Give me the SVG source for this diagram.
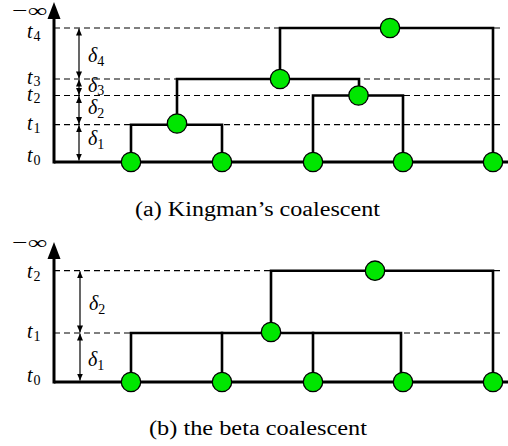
<svg xmlns="http://www.w3.org/2000/svg" width="508" height="446" viewBox="0 0 508 446">
<defs>
<style>
.dash{stroke:#000;stroke-width:1.2;stroke-dasharray:6,4;fill:none}
.axis{stroke:#000;stroke-width:3;fill:none}
.edge{stroke:#000;stroke-width:2.6;fill:none;stroke-linejoin:miter;stroke-linecap:square}
.dl{stroke:#000;stroke-width:1.2;fill:none;marker-start:url(#ah);marker-end:url(#ah)}
.node{fill:#00e600;stroke:#000;stroke-width:1.3}
.m{font-family:"Liberation Serif","DejaVu Serif",serif;font-style:italic;font-size:20px;fill:#000}
.sub{font-style:normal;font-size:14px}
.cap{font-family:"Liberation Serif","Times New Roman",serif;font-size:20px;fill:#000}
.inf{font-family:"Liberation Serif","DejaVu Serif",serif;font-size:19px;fill:#000}
</style>
<marker id="ah" viewBox="0 0 7 6" refX="7" refY="3" markerWidth="7" markerHeight="6" markerUnits="userSpaceOnUse" orient="auto-start-reverse"><path d="M0,0 L7,3 L0,6 z" fill="#000"/></marker>
</defs>
<rect width="508" height="446" fill="#fff"/>

<!-- Panel (a) -->
<g id="grid-a">
<line class="dash" x1="54" y1="28" x2="500" y2="28"/>
<line class="dash" x1="54" y1="79" x2="500" y2="79"/>
<line class="dash" x1="54" y1="95.5" x2="500" y2="95.5"/>
<line class="dash" x1="54" y1="124.7" x2="500" y2="124.7"/>
</g>
<g id="axis-a">
<line class="axis" x1="54" y1="162" x2="508" y2="162"/>
<line class="axis" x1="54" y1="163.5" x2="54" y2="16"/>
<polygon points="54,2 47.5,19 60.5,19" fill="#000"/>
<text class="inf" x="12" y="17" textLength="35" lengthAdjust="spacingAndGlyphs">−∞</text>
<text class="m" x="27" y="38">t<tspan class="sub" dx="1" dy="3">4</tspan></text>
<text class="m" x="27" y="84">t<tspan class="sub" dx="1" dy="2">3</tspan></text>
<text class="m" x="27" y="101">t<tspan class="sub" dx="1" dy="2">2</tspan></text>
<text class="m" x="27" y="130">t<tspan class="sub" dx="1" dy="3">1</tspan></text>
<text class="m" x="27" y="162">t<tspan class="sub" dx="1" dy="3">0</tspan></text>
</g>
<g id="deltas-a">
<line class="dl" x1="79" y1="28.6" x2="79" y2="78.4"/>
<line class="dl" x1="79" y1="79.6" x2="79" y2="94.9"/>
<line class="dl" x1="79" y1="96.1" x2="79" y2="124.1"/>
<line class="dl" x1="79" y1="125.3" x2="79" y2="160.5"/>
<text class="m" x="88" y="62">δ<tspan class="sub" dx="0" dy="4">4</tspan></text>
<text class="m" x="88" y="92">δ<tspan class="sub" dx="0" dy="3">3</tspan></text>
<text class="m" x="88" y="114">δ<tspan class="sub" dx="0" dy="4">2</tspan></text>
<text class="m" x="88" y="145">δ<tspan class="sub" dx="0" dy="4">1</tspan></text>
</g>
<g id="connectors-a">
<path class="edge" d="M131,162 V124.7 H222 V162"/>
<path class="edge" d="M177,124.7 V79 H359 V95.5"/>
<path class="edge" d="M313,162 V95.5 H403 V162"/>
<path class="edge" d="M280,79 V28 H493 V162"/>
</g>
<g id="a-leaf1"><circle class="node" cx="131" cy="162" r="9.7"/></g>
<g id="a-leaf2"><circle class="node" cx="222" cy="162" r="9.7"/></g>
<g id="a-leaf3"><circle class="node" cx="313" cy="162" r="9.7"/></g>
<g id="a-leaf4"><circle class="node" cx="403" cy="162" r="9.7"/></g>
<g id="a-leaf5"><circle class="node" cx="493" cy="162" r="9.7"/></g>
<g id="a-n1"><circle class="node" cx="177" cy="123.5" r="9.7"/></g>
<g id="a-n2"><circle class="node" cx="358.5" cy="95.5" r="9.7"/></g>
<g id="a-n3"><circle class="node" cx="280" cy="79" r="9.7"/></g>
<g id="a-n4"><circle class="node" cx="390" cy="28" r="9.7"/></g>
<text class="cap" x="135" y="216" textLength="245" lengthAdjust="spacingAndGlyphs">(a)  Kingman’s coalescent</text>

<!-- Panel (b) -->
<g id="grid-b">
<line class="dash" x1="54" y1="270.7" x2="500" y2="270.7"/>
<line class="dash" x1="54" y1="333" x2="500" y2="333"/>
</g>
<g id="axis-b">
<line class="axis" x1="54" y1="382" x2="508" y2="382"/>
<line class="axis" x1="54" y1="383.5" x2="54" y2="256"/>
<polygon points="54,242 47.5,259 60.5,259" fill="#000"/>
<text class="inf" x="12" y="249" textLength="35" lengthAdjust="spacingAndGlyphs">−∞</text>
<text class="m" x="27" y="278">t<tspan class="sub" dx="1" dy="3">2</tspan></text>
<text class="m" x="27" y="338">t<tspan class="sub" dx="1" dy="3">1</tspan></text>
<text class="m" x="27" y="382">t<tspan class="sub" dx="1" dy="3">0</tspan></text>
</g>
<g id="deltas-b">
<line class="dl" x1="80" y1="271.3" x2="80" y2="332.4"/>
<line class="dl" x1="80" y1="333.6" x2="80" y2="380.5"/>
<text class="m" x="89" y="310">δ<tspan class="sub" dx="0" dy="4">2</tspan></text>
<text class="m" x="88" y="366">δ<tspan class="sub" dx="0" dy="4">1</tspan></text>
</g>
<g id="connectors-b">
<path class="edge" d="M131,382 V333 H401 V382"/>
<path class="edge" d="M222,333 V382"/>
<path class="edge" d="M313,333 V382"/>
<path class="edge" d="M271,333 V270.7 H493 V382"/>
</g>
<g id="b-leaf1"><circle class="node" cx="131" cy="382" r="9.7"/></g>
<g id="b-leaf2"><circle class="node" cx="222" cy="382" r="9.7"/></g>
<g id="b-leaf3"><circle class="node" cx="313" cy="382" r="9.7"/></g>
<g id="b-leaf4"><circle class="node" cx="403" cy="382" r="9.7"/></g>
<g id="b-leaf5"><circle class="node" cx="493" cy="382" r="9.7"/></g>
<g id="b-n1"><circle class="node" cx="271" cy="332" r="9.7"/></g>
<g id="b-n2"><circle class="node" cx="375" cy="270.7" r="9.7"/></g>
<text class="cap" x="149" y="435" textLength="218" lengthAdjust="spacingAndGlyphs">(b)  the beta coalescent</text>
</svg>
